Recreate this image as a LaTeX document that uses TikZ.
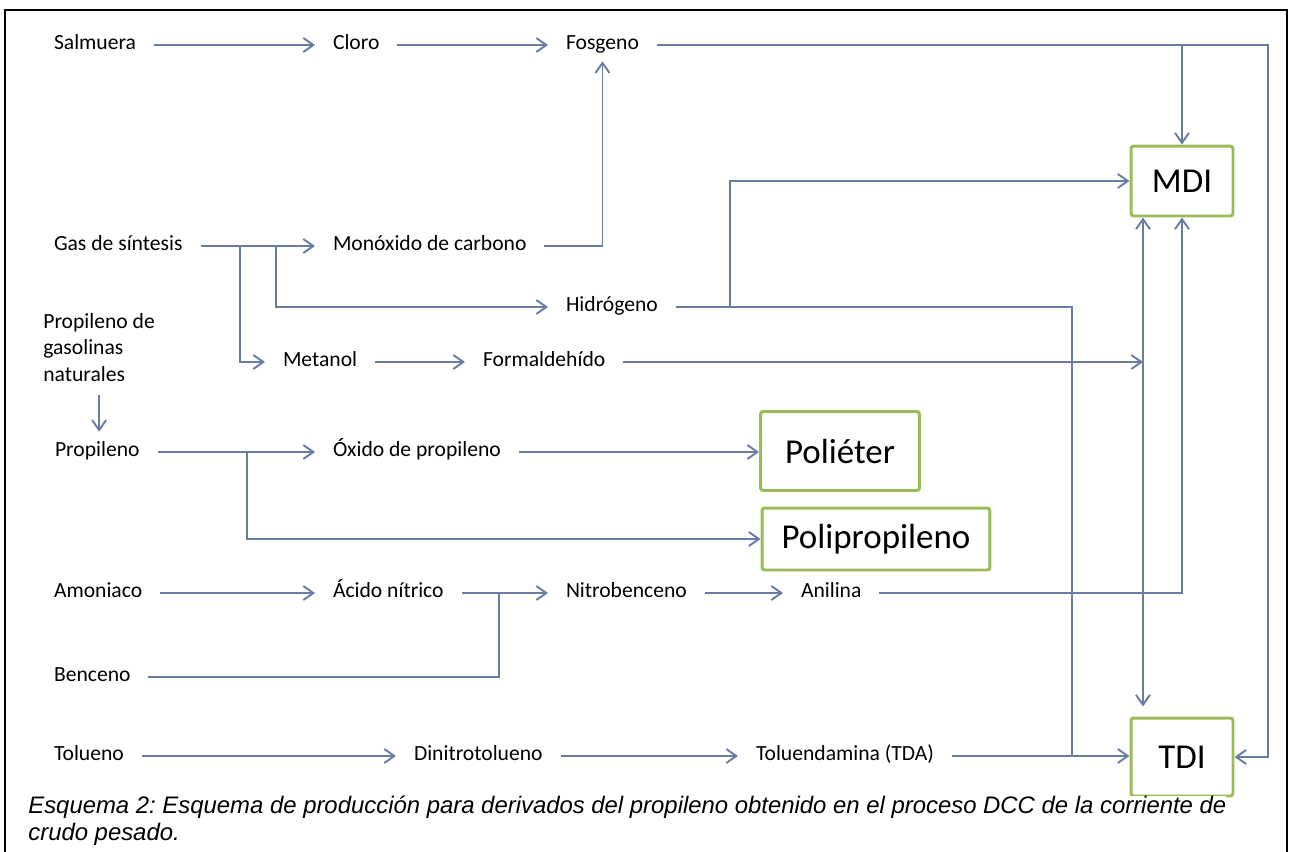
\documentclass[tikz,border=0pt]{standalone}
\usepackage{fontspec}
\setmainfont{Carlito}
\newfontfamily\capfont{Liberation Sans}
\usetikzlibrary{arrows.meta, positioning}
\definecolor{pipeblue}{HTML}{6A7BA4}
\definecolor{leafgreen}{HTML}{9BBB59}
\frenchspacing

\begin{document}
\begin{tikzpicture}[x=0.02cm, y=-0.02cm,
    chem/.style={anchor=west, xshift=-3.6mm, inner sep=0pt, outer xsep=3.6mm, text height=0.7em, text depth=0.2em, font=\fontsize{12.3}{15}\selectfont},
    product/.style={draw=leafgreen, line width=1.7pt, fill=white, rounded corners=1.5pt, inner sep=0pt, font=\fontsize{19.9}{24}\selectfont},
    pipe/.style={draw=pipeblue, line width=1.1pt},
    arrow/.style={pipe, -{Straight Barb[length=2mm, width=2.8mm]}},
    every node/.style={align=left}
  ]
  \useasboundingbox (0,0) rectangle (1289,852);
  % Frame
  \draw[line width=1.2pt] (5,852) -- (5,10) -- (1287,10) -- (1287,852);

  % Raw materials and intermediates
  \node[chem] (salmuera) at (54,45) {Salmuera};
  \node[chem] (cloro) at (333,45) {Cloro};
  \node[chem] (fosgeno) at (566,45) {Fosgeno};
  \node[chem] (gas) at (54,246) {Gas de síntesis};
  \node[chem] (monoxido) at (333,246) {Monóxido de carbono};
  \node[chem] (hidrogeno) at (566,307) {Hidrógeno};
  \node[anchor=north west, inner sep=0pt, font=\fontsize{12.3}{15}\selectfont] (propnat) at (43,313) {Propileno de\\gasolinas\\naturales};
  \node[chem] (metanol) at (283,362) {Metanol};
  \node[chem] (formaldehido) at (483,362) {Formaldehído};
  \node[chem] (propileno) at (55,452) {Propileno};
  \node[chem] (oxido) at (333,452) {Óxido de propileno};
  \node[chem] (amoniaco) at (54,593) {Amoniaco};
  \node[chem] (acido) at (333,593) {Ácido nítrico};
  \node[chem] (nitrobenceno) at (566,593) {Nitrobenceno};
  \node[chem] (anilina) at (801,593) {Anilina};
  \node[chem] (benceno) at (54,677) {Benceno};
  \node[chem] (tolueno) at (54,756) {Tolueno};
  \node[chem] (dinitro) at (414,756) {Dinitrotolueno};
  \node[chem] (tda) at (756,756) {Toluendamina (TDA)};

  % Products
  \node[product, minimum width=3.18cm, minimum height=1.58cm] (polieter) at (840,451) {Poliéter};
  \node[product, minimum width=4.56cm, minimum height=1.24cm] (polipropileno) at (876,539) {Polipropileno};
  \node[product, minimum width=2.04cm, minimum height=1.4cm] (mdi) at (1182,181) {MDI};
  \node[product, minimum width=2.04cm, minimum height=1.56cm] (tdi) at (1182,757) {TDI};

  % Junctions
  \coordinate (gassplitA) at (240,246);
  \coordinate (gassplitB) at (276,246);
  \coordinate (h2up) at (730,307);
  \coordinate (h2drop) at (1072,0);
  \coordinate (mixbus) at (1143,0);
  \coordinate (eastbus) at (1268,0);
  \coordinate (propsplit) at (247,452);
  \coordinate (nitrojoin) at (499,593);

  % Chlorine / phosgene line
  \draw[arrow] (salmuera) -- (cloro);
  \draw[arrow] (cloro) -- (fosgeno);
  \draw[arrow] (fosgeno) -| (eastbus |- tdi.east) -- (tdi.east);
  \draw[arrow] (fosgeno -| mdi) -- (mdi.north);

  % Synthesis gas
  \draw[arrow] (gas) -- (monoxido);
  \draw[arrow] (gassplitA) |- (metanol);
  \draw[arrow] (gassplitB) |- (hidrogeno);
  \draw[arrow, shorten >=1.6mm] (monoxido) -| (fosgeno);
  \draw[pipe] (hidrogeno) -| (h2drop |- tda);
  \draw[arrow] (h2up) |- (mdi);
  \draw[arrow] (metanol) -- (formaldehido);
  \draw[arrow] (formaldehido) -- (formaldehido -| mixbus);
  \draw[pipe, {Straight Barb[length=2mm, width=2.8mm]}-{Straight Barb[length=2mm, width=2.8mm]}, shorten >=2mm] (mixbus |- mdi.south) -- (mixbus |- tdi.north);

  % Propylene
  \draw[arrow, shorten <=2.6mm, shorten >=2.4mm] (propnat.south) -- (propnat.south |- propileno.north);
  \draw[arrow] (propileno) -- (oxido);
  \draw[arrow] (oxido) -- (oxido -| polieter.west);
  \draw[arrow] (propsplit) |- (polipropileno);

  % Aromatics
  \draw[arrow] (amoniaco) -- (acido);
  \draw[arrow] (acido) -- (nitrobenceno);
  \draw[pipe] (benceno) -| (nitrojoin);
  \draw[arrow] (nitrobenceno) -- (anilina);
  \draw[arrow] (anilina) -| (mdi);
  \draw[arrow] (tolueno) -- (dinitro);
  \draw[arrow] (dinitro) -- (tda);
  \draw[arrow] (tda) -- (tda -| tdi.west);

  % Caption
  \node[anchor=north west, inner sep=0pt, fill=white, font=\capfont\itshape\fontsize{13.6}{15.3}\selectfont] (caption) at (28,796) {Esquema 2: Esquema de producción para derivados del propileno obtenido en el proceso DCC de la corriente de\\crudo pesado.};
\end{tikzpicture}
\end{document}
